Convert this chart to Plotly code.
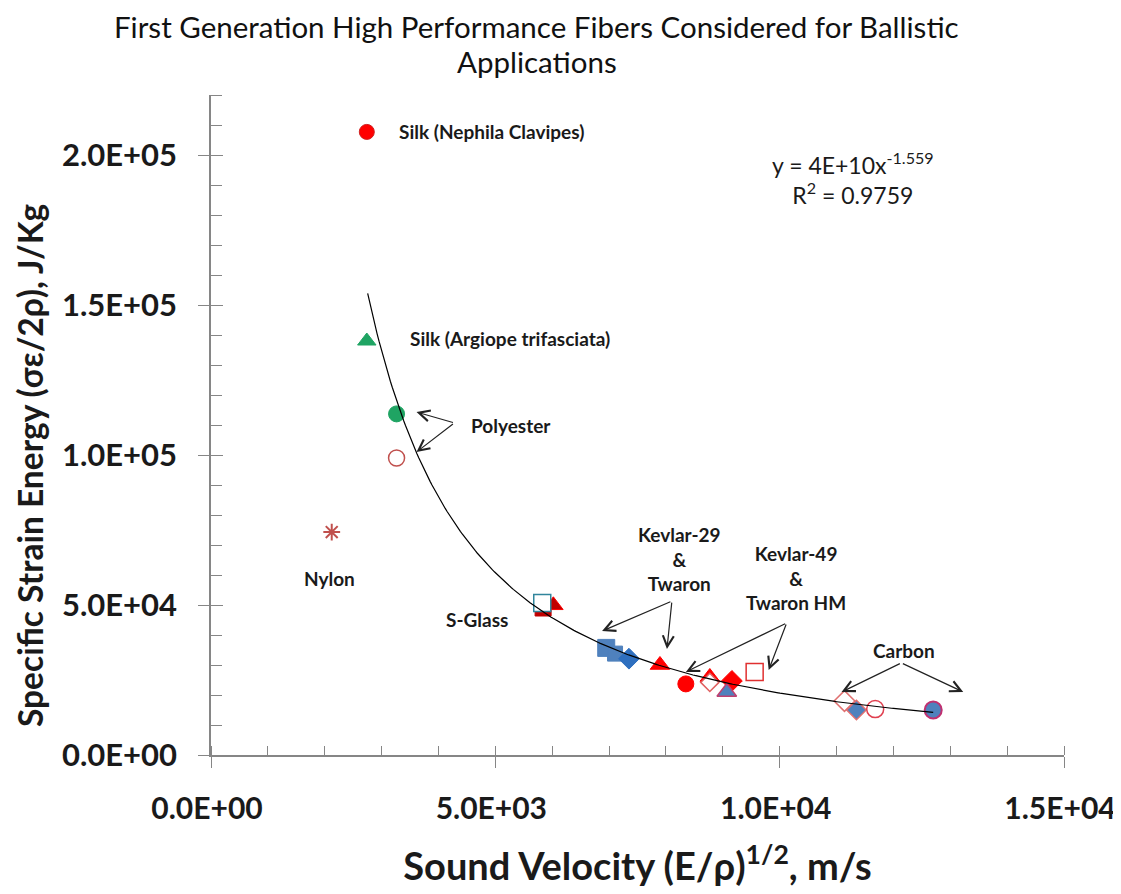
import numpy as np
import plotly.graph_objects as go

# ---------------- data ----------------
fiber = ["Silk (Nephila Clavipes)", "Silk (Argiope trifasciata)", "Polyester", "Polyester",
         "Nylon", "S-Glass", "S-Glass", "S-Glass", "Kevlar-29", "Kevlar-29", "Twaron",
         "Kevlar-29", "Kevlar-29", "Kevlar-49", "Kevlar-49", "Twaron HM", "Twaron HM",
         "Kevlar-49", "Carbon", "Carbon", "Carbon", "Carbon"]
velocity = [2740, 2740, 3263, 3263, 2123, 5840, 6020, 5825, 6950, 7105, 7350,
            7895, 8350, 8772, 8772, 9160, 9070, 9560, 11140, 11350, 11680, 12700]
energy = [207700, 138000, 113700, 99000, 74300, 49000, 49900, 50700, 35700, 33800, 32100,
          30000, 23700, 26000, 24200, 24700, 21000, 27700, 18000, 15000, 15300, 15000]

# power-law trendline parameters (Excel display rounds coefficient to 4E+10)
fit_coef = 3.55e10
fit_exp = -1.559
fit_xmin, fit_xmax = 2755, 12700

x_tickvals = [0, 5000, 10000, 15000]
x_ticktext = ["0.0E+00", "5.0E+03", "1.0E+04", "1.5E+04"]
y_tickvals = [0, 50000, 100000, 150000, 200000]
y_ticktext = ["0.0E+00", "5.0E+04", "1.0E+05", "1.5E+05", "2.0E+05"]

# ---------------- styles (per point) ----------------
RED = "#FF0000"
DRED = "#C00000"
GREEN = "#1FA463"
BLUE = "#4F81BD"
BLUE2 = "#2E6FBF"
BRICK = "#C0504D"
styles = [
    dict(symbol="circle", size=15, color=RED, line=dict(color="#D02020", width=1)),
    dict(symbol="triangle-up", size=16, color=GREEN, line=dict(color=GREEN, width=1)),
    dict(symbol="circle", size=16, color=GREEN, line=dict(color=GREEN, width=1)),
    dict(symbol="circle", size=16, color="white", line=dict(color=BRICK, width=1.5)),
    dict(symbol="asterisk-open", size=14, color=BRICK, line=dict(color=BRICK, width=2)),
    dict(symbol="square", size=16, color=DRED, line=dict(color=DRED, width=1)),
    dict(symbol="triangle-up", size=17, color=DRED, line=dict(color=RED, width=1)),
    dict(symbol="square", size=17, color="white", line=dict(color="#31859C", width=1.5)),
    dict(symbol="square", size=17, color=BLUE, line=dict(color=BLUE, width=1)),
    dict(symbol="square", size=15, color=BLUE, line=dict(color=BLUE, width=1)),
    dict(symbol="diamond", size=16, color=BLUE2, line=dict(color=BLUE2, width=1)),
    dict(symbol="triangle-up", size=17, color=RED, line=dict(color=RED, width=1)),
    dict(symbol="circle", size=16, color=RED, line=dict(color=RED, width=1)),
    dict(symbol="triangle-up", size=17, color=RED, line=dict(color=RED, width=1)),
    dict(symbol="diamond", size=14, color="white", line=dict(color="#E06060", width=1.5)),
    dict(symbol="diamond", size=16, color=RED, line=dict(color=RED, width=1)),
    dict(symbol="triangle-up", size=17, color=BLUE, line=dict(color="#C04070", width=1.5)),
    dict(symbol="square", size=17, color="white", line=dict(color="#E03030", width=1.5)),
    dict(symbol="diamond", size=16, color="white", line=dict(color="#E07070", width=1.5)),
    dict(symbol="diamond", size=15, color=BLUE, line=dict(color="#E07070", width=1.5)),
    dict(symbol="circle", size=17, color="white", line=dict(color="#E04050", width=1.5)),
    dict(symbol="circle", size=17, color=BLUE, line=dict(color="#C03070", width=2)),
]

fig = go.Figure()
for name, xv, yv, st in zip(fiber, velocity, energy, styles):
    fig.add_trace(go.Scatter(x=[xv], y=[yv], mode="markers", name=name,
                             marker=dict(symbol=st["symbol"], size=st["size"],
                                         color=st["color"], line=st["line"]),
                             showlegend=False, hoverinfo="x+y+name"))

# trendline
fx = np.linspace(fit_xmin, fit_xmax, 300)
fy = fit_coef * fx ** fit_exp
fig.add_trace(go.Scatter(x=fx, y=fy, mode="lines", line=dict(color="black", width=1.2),
                         showlegend=False, hoverinfo="skip"))

# empty trace on overlay axes (for crossing major ticks)
fig.add_trace(go.Scatter(x=[], y=[], xaxis="x2", yaxis="y2", showlegend=False))

BOLD = dict(family="Lato", size=19, color="#1a1a1a", weight="bold")

ann = []
def text(x, y, s, xanchor="center", font=BOLD):
    ann.append(dict(x=x, y=y, xref="x", yref="y", text=s, showarrow=False,
                    xanchor=xanchor, yanchor="middle", font=font))

def arrow(x, y, ax, ay):
    ann.append(dict(x=x, y=y, ax=ax, ay=ay, xref="x", yref="y", axref="x", ayref="y",
                    text="", showarrow=True, arrowhead=5, arrowsize=1.8, arrowwidth=1.2,
                    arrowcolor="#222222"))

text(3263, 207700, "Silk (Nephila Clavipes)", "left")
text(3456, 139000, "Silk (Argiope trifasciata)", "left")
text(4544, 110000, "Polyester", "left")
text(2088, 59000, "Nylon")
text(4684, 45300, "S-Glass")
text(8246, 65300, "Kevlar-29<br>&<br>Twaron")
text(10281, 59000, "Kevlar-49<br>&<br>Twaron HM")
text(12193, 34700, "Carbon")
text(11298, 192200, "y = 4E+10x<sup>-1.559</sup><br>R<sup>2</sup> = 0.9759",
     font=dict(family="Lato", size=23, color="#1a1a1a"))

arrow(3614, 114300, 4281, 110700)
arrow(3614, 101000, 4281, 110700)
arrow(6877, 41300, 8105, 51300)
arrow(8018, 35300, 8105, 51300)
arrow(8351, 27700, 10123, 44000)
arrow(9807, 28300, 10123, 44000)
arrow(11088, 21000, 12140, 30700)
arrow(13228, 21000, 12140, 30700)

# chart title (two lines, one annotation each)
TITLE_FONT = dict(family="Lato", size=29.5, color="#111111")
ann.append(dict(x=0.382, y=1.1045, xref="paper", yref="paper", showarrow=False,
                xanchor="center", yanchor="middle",
                text="First Generation High Performance Fibers Considered for Ballistic",
                font=TITLE_FONT))
ann.append(dict(x=0.382, y=1.0515, xref="paper", yref="paper", showarrow=False,
                xanchor="center", yanchor="middle", text="Applications", font=TITLE_FONT))

# y-axis title
ann.append(dict(x=-0.2122, y=0.4394, xref="paper", yref="paper", showarrow=False,
                xanchor="center", yanchor="middle", textangle=-90,
                text="Specific Strain Energy (σε/2ρ), J/Kg",
                font=dict(family="Lato", size=33.5, color="#1a1a1a", weight="bold")))

AX = "#868686"
TICKFONT = dict(family="Lato", size=31, color="#1a1a1a", weight="bold")
XTICKFONT = dict(family="Lato", size=30, color="#1a1a1a", weight="bold")

fig.update_layout(
    width=1113, height=886,
    margin=dict(l=203, r=57, t=87, b=139, autoexpand=False),
    paper_bgcolor="white", plot_bgcolor="white",
    xaxis=dict(range=[0, 15000], tickvals=x_tickvals, ticktext=x_ticktext,
               showgrid=False, zeroline=False, showline=True, linecolor=AX, linewidth=1.5,
               ticks="outside", ticklen=11, tickcolor=AX, tickwidth=1, tickfont=XTICKFONT,
               ticklabelstandoff=15, ticklabelshift=-4, ticklabeloverflow="allow",
               minor=dict(dtick=1000, ticks="inside", ticklen=9, tickcolor=AX, tickwidth=1),
               title=dict(text="Sound Velocity (E/ρ)<sup>1/2</sup>, m/s", standoff=30,
                          font=dict(family="Lato", size=38, color="#1a1a1a", weight="bold"))),
    yaxis=dict(range=[0, 220000], tickvals=y_tickvals, ticktext=y_ticktext,
               showgrid=False, zeroline=False, showline=True, linecolor=AX, linewidth=1.5,
               ticks="outside", ticklen=11, tickcolor=AX, tickwidth=1, tickfont=TICKFONT,
               ticklabelstandoff=15, ticklabeloverflow="allow",
               minor=dict(dtick=10000, ticks="inside", ticklen=11, tickcolor=AX, tickwidth=1)),
    xaxis2=dict(overlaying="x", matches="x", anchor="y2", showgrid=False, zeroline=False,
                showline=False, tickvals=x_tickvals, showticklabels=False, ticks="inside",
                ticklen=9, tickcolor=AX),
    yaxis2=dict(overlaying="y", matches="y", anchor="x2", showgrid=False, zeroline=False,
                showline=False, tickvals=y_tickvals, showticklabels=False, ticks="inside",
                ticklen=12, tickcolor=AX),
    annotations=ann,
)

fig.write_html("out.html")
